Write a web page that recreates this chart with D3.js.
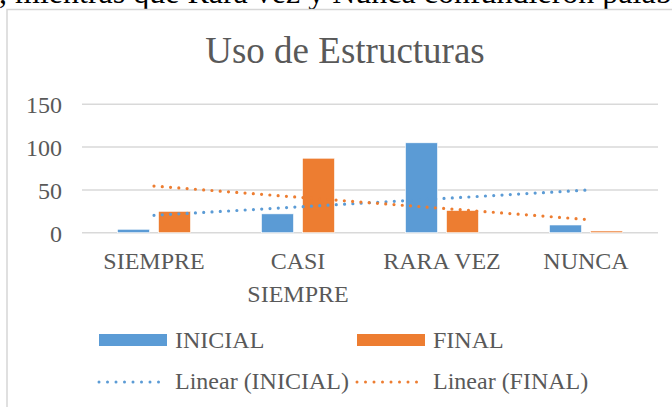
<!DOCTYPE html>
<html>
<head>
<meta charset="utf-8">
<style>
  body { margin: 0; background: #fff; }
  svg { display: block; }
  svg text { font-family: "Liberation Serif", Tinos, "Times New Roman", Times, "DejaVu Serif", serif; }
</style>
</head>
<body>
<svg width="672" height="407"></svg>
<script src="https://d3js.org/d3.v7.min.js"></script>
<script>
var categories = ["SIEMPRE", "CASI SIEMPRE", "RARA VEZ", "NUNCA"];
var series = ["INICIAL", "FINAL"];
var inicial = [4, 22, 105, 9];
var final = [25, 87, 26, 2];
var yTicks = [0, 50, 100, 150];
var colors = {INICIAL: "#5B9BD5", FINAL: "#ED7D31"};

var values = {INICIAL: inicial, FINAL: final};
var serif = '"Liberation Serif", Tinos, "Times New Roman", Times, "DejaVu Serif", serif';
var svg = d3.select("svg");

// texto del documento cortado arriba
svg.append("text")
  .attr("x", -1).attr("y", 3)
  .attr("font-family", serif)
  .attr("font-size", 32).attr("fill", "#000")
  .text(", mientras que Rara vez y Nunca confundieron palabras");

// borde del grafico
svg.append("rect")
  .attr("x", 7).attr("y", 9.5)
  .attr("width", 700).attr("height", 420)
  .attr("fill", "none").attr("stroke", "#d6d6d6").attr("stroke-width", 1.5);

svg.append("text")
  .attr("x", 345).attr("y", 63)
  .attr("text-anchor", "middle")
  .attr("font-family", serif)
  .attr("font-size", 37).attr("fill", "#595959")
  .text("Uso de Estructuras");

// escalas
var x = d3.scaleBand().domain(categories).range([82, 658]);
var x1 = d3.scaleBand().domain(series).range([35.5, 108.5]).paddingInner(9 / 41);
var y = d3.scaleLinear().domain([0, 150]).range([232.7, 104.3]);

// grid
svg.append("g").selectAll("line")
  .data(yTicks)
  .join("line")
  .attr("x1", 82).attr("x2", 658)
  .attr("y1", function(d) { return y(d); })
  .attr("y2", function(d) { return y(d); })
  .attr("stroke", "#d9d9d9").attr("stroke-width", 1.5);

// eje y
var yAxis = d3.axisLeft(y).tickValues(yTicks).tickSize(0).tickPadding(0);
var gy = svg.append("g")
  .attr("transform", "translate(62,0)")
  .call(yAxis)
  .attr("font-family", serif);
gy.select(".domain").remove();
gy.selectAll("text")
  .attr("font-family", serif)
  .attr("font-size", 24).attr("fill", "#595959")
  .attr("dy", "0.35em");

// barras
var groups = svg.append("g").selectAll("g")
  .data(categories)
  .join("g")
  .attr("transform", function(d) { return "translate(" + x(d) + ",0)"; });

groups.selectAll("rect")
  .data(function(c, i) { return series.map(function(s) { return {s: s, v: values[s][i]}; }); })
  .join("rect")
  .attr("x", function(d) { return x1(d.s); })
  .attr("width", x1.bandwidth())
  .attr("y", function(d) { return y(d.v); })
  .attr("height", function(d) { return y(0) - y(d.v); })
  .attr("fill", function(d) { return colors[d.s]; })
  .attr("stroke", "#fff").attr("stroke-width", 0.6);

// etiquetas de categoria
var xLabels = svg.append("g").selectAll("text")
  .data(categories)
  .join("text")
  .attr("x", function(d) { return x(d) + x.bandwidth() / 2; })
  .attr("y", 269)
  .attr("text-anchor", "middle")
  .attr("font-family", serif)
  .attr("font-size", 24).attr("fill", "#595959")
  .text(function(d) { return d; });

xLabels.each(function(d) {
  var t = d3.select(this);
  if (this.getComputedTextLength() > x.bandwidth()) {
    var words = d.split(" ");
    t.text(null);
    words.forEach(function(w, i) {
      t.append("tspan")
        .attr("x", x(d) + x.bandwidth() / 2)
        .attr("dy", i == 0 ? 0 : 33)
        .text(w);
    });
  }
});

// lineas de tendencia (minimos cuadrados)
function trend(vals) {
  var n = vals.length;
  var xs = d3.range(1, n + 1);
  var mx = d3.mean(xs), my = d3.mean(vals);
  var num = 0, den = 0;
  for (var i = 0; i < n; i++) {
    num += (xs[i] - mx) * (vals[i] - my);
    den += (xs[i] - mx) * (xs[i] - mx);
  }
  var b = num / den, a = my - b * mx;
  return [[0, a + b * 1], [n - 1, a + b * n]];
}

var line = d3.line()
  .x(function(d) { return x(categories[d[0]]) + x.bandwidth() / 2; })
  .y(function(d) { return y(d[1]); });

series.forEach(function(s) {
  svg.append("path")
    .datum(trend(values[s]))
    .attr("d", line)
    .attr("fill", "none")
    .attr("stroke", colors[s])
    .attr("stroke-width", 3.2)
    .attr("stroke-linecap", "round")
    .attr("stroke-dasharray", "0 8.3");
});

// leyenda
var legX = [99, 357];
var leg = svg.append("g");
series.forEach(function(s, i) {
  leg.append("rect")
    .attr("x", legX[i]).attr("y", 334)
    .attr("width", 68).attr("height", 12)
    .attr("fill", colors[s]);
  leg.append("text")
    .attr("x", legX[i] + 76).attr("y", 348)
    .attr("font-family", serif)
    .attr("font-size", 24).attr("fill", "#595959")
    .text(s);
  leg.append("line")
    .attr("x1", legX[i]).attr("x2", legX[i] + 68)
    .attr("y1", 382).attr("y2", 382)
    .attr("stroke", colors[s])
    .attr("stroke-width", 3)
    .attr("stroke-linecap", "round")
    .attr("stroke-dasharray", "0 8.5");
  leg.append("text")
    .attr("x", legX[i] + 76).attr("y", 389)
    .attr("font-family", serif)
    .attr("font-size", 24).attr("fill", "#595959")
    .text("Linear (" + s + ")");
});
</script>
</body>
</html>
